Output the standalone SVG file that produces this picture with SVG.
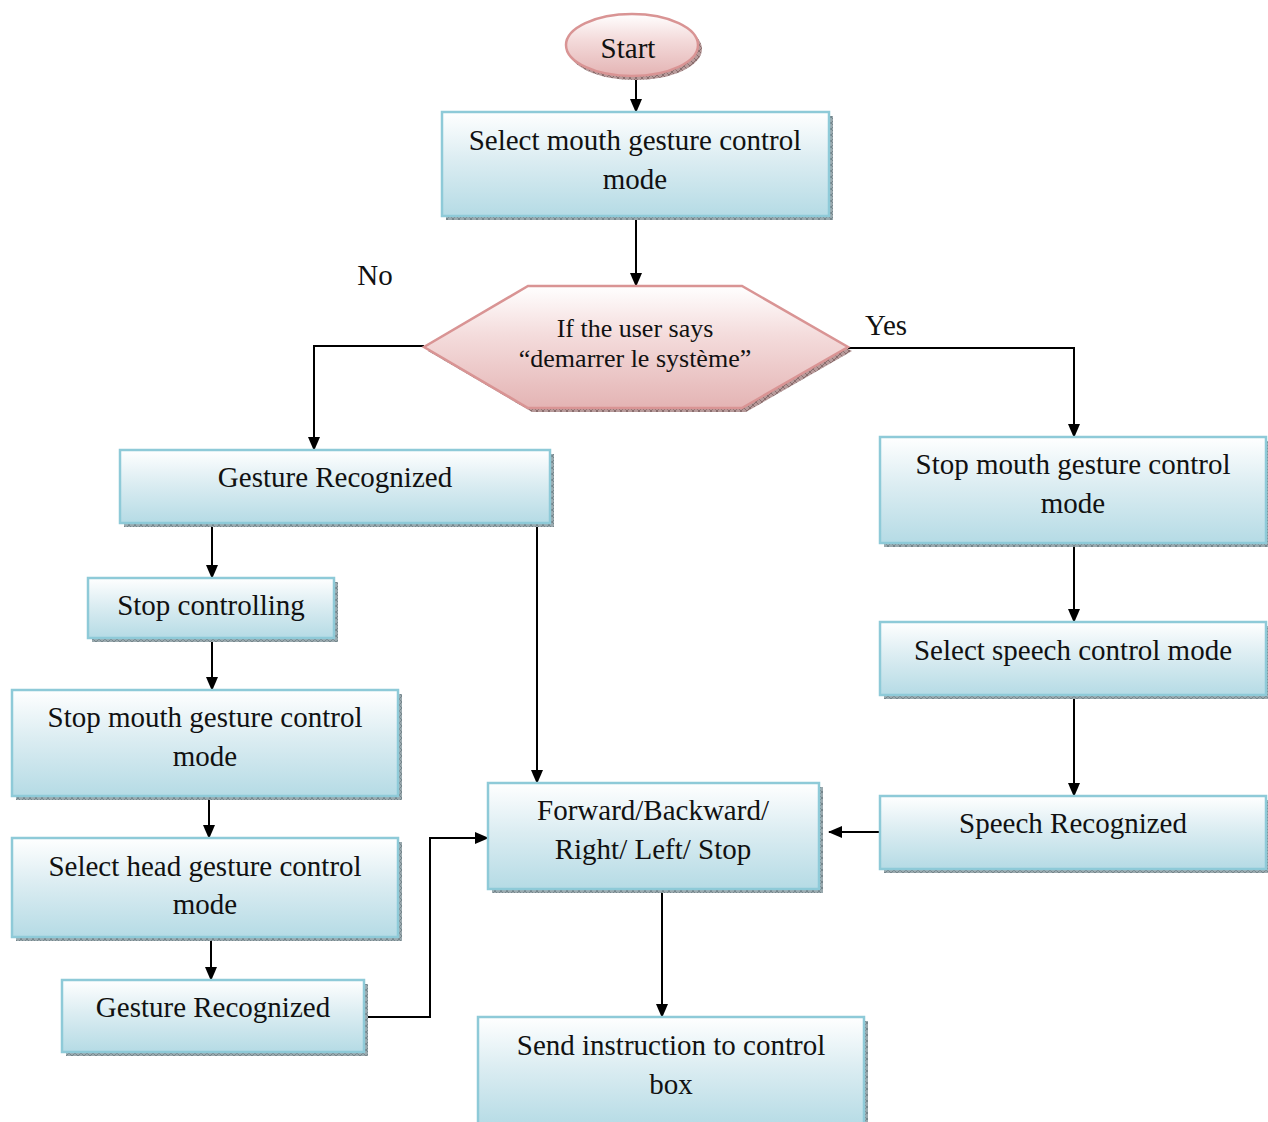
<svg xmlns="http://www.w3.org/2000/svg" width="1268" height="1122" viewBox="0 0 1268 1122">
  <defs>
    <linearGradient id="blueFill" x1="0" y1="0" x2="0" y2="1">
      <stop offset="0" stop-color="#ffffff"/>
      <stop offset="0.45" stop-color="#dcedf2"/>
      <stop offset="1" stop-color="#b5dbe5"/>
    </linearGradient>
    <linearGradient id="pinkFill" x1="0" y1="0" x2="0" y2="1">
      <stop offset="0" stop-color="#ffffff"/>
      <stop offset="0.4" stop-color="#f4dcdc"/>
      <stop offset="1" stop-color="#e4b4b4"/>
    </linearGradient>
    <pattern id="blueHatch" width="6" height="6" patternUnits="userSpaceOnUse">
      <rect width="6" height="6" fill="#9aa9ae"/>
      <path d="M0 0L6 6M6 0L0 6" stroke="#6d7e84" stroke-width="0.8"/>
    </pattern>
    <pattern id="pinkHatch" width="6" height="6" patternUnits="userSpaceOnUse">
      <rect width="6" height="6" fill="#b79a9a"/>
      <path d="M0 0L6 6M6 0L0 6" stroke="#7e6262" stroke-width="0.8"/>
    </pattern>
    <marker id="arrow" markerWidth="14" markerHeight="14" refX="13" refY="7" orient="auto" markerUnits="userSpaceOnUse">
      <path d="M0 1L14 7L0 13Z" fill="#000"/>
    </marker>
    <style>
      .box { fill: url(#blueFill); stroke: #8ecad8; stroke-width: 2.5; }
      .shadow { fill: url(#blueHatch); }
      .pshadow { fill: url(#pinkHatch); }
      .pink { fill: url(#pinkFill); stroke: #d99494; stroke-width: 2.5; }
      text { font-family: "Liberation Serif", "DejaVu Serif", serif; fill: #111; text-anchor: middle; }
      .lbl { font-size: 29px; }
      .hlbl { font-size: 26px; }
      .wire { fill: none; stroke: #000; stroke-width: 2; }
    </style>
  </defs>

  <!-- Connectors -->
  <g id="connectors">
    <path class="wire" d="M636 76V112" marker-end="url(#arrow)"/>
    <path class="wire" d="M636 216V286" marker-end="url(#arrow)"/>
    <path class="wire" d="M424 346H314V450" marker-end="url(#arrow)"/>
    <path class="wire" d="M848 348H1074V437" marker-end="url(#arrow)"/>
    <path class="wire" d="M212 523V578" marker-end="url(#arrow)"/>
    <path class="wire" d="M537 523V783" marker-end="url(#arrow)"/>
    <path class="wire" d="M212 638V690" marker-end="url(#arrow)"/>
    <path class="wire" d="M209 796V838" marker-end="url(#arrow)"/>
    <path class="wire" d="M211 937V980" marker-end="url(#arrow)"/>
    <path class="wire" d="M364 1017H430V838H488" marker-end="url(#arrow)"/>
    <path class="wire" d="M1074 543V622" marker-end="url(#arrow)"/>
    <path class="wire" d="M1074 695V796" marker-end="url(#arrow)"/>
    <path class="wire" d="M880 832H829" marker-end="url(#arrow)"/>
    <path class="wire" d="M662 889V1017" marker-end="url(#arrow)"/>
  </g>

  <!-- Branch labels -->
  <text class="lbl" x="375" y="285" font-size="28">No</text>
  <text class="lbl" x="886" y="335" font-size="28">Yes</text>

  <g id="start">
    <ellipse class="pshadow" cx="635" cy="49" rx="67" ry="31"/>
    <ellipse class="pink" cx="632" cy="45" rx="66" ry="31"/>
    <text class="lbl" x="628" y="58">Start</text>
  </g>

  <g id="select-mouth">
    <rect class="shadow" x="446" y="116" width="387" height="104"/>
    <rect class="box" x="442" y="112" width="387" height="104"/>
    <text class="lbl" x="635" y="150">Select mouth gesture control</text>
    <text class="lbl" x="635" y="189">mode</text>
  </g>

  <g id="decision">
    <polygon class="pshadow" points="532,290 746,290 852,351 746,412 532,412 428,351"/>
    <polygon class="pink" points="528,286 742,286 848,347 742,408 528,408 424,347"/>
    <text class="hlbl" x="635" y="337">If the user says</text>
    <text class="hlbl" x="635" y="367">“demarrer le système”</text>
  </g>

  <g id="gesture-recognized">
    <rect class="shadow" x="124" y="454" width="430" height="73"/>
    <rect class="box" x="120" y="450" width="430" height="73"/>
    <text class="lbl" x="335" y="487">Gesture Recognized</text>
  </g>

  <g id="stop-controlling">
    <rect class="shadow" x="92" y="582" width="246" height="60"/>
    <rect class="box" x="88" y="578" width="246" height="60"/>
    <text class="lbl" x="211" y="615">Stop controlling</text>
  </g>

  <g id="stop-mouth-left">
    <rect class="shadow" x="16" y="694" width="386" height="106"/>
    <rect class="box" x="12" y="690" width="386" height="106"/>
    <text class="lbl" x="205" y="727">Stop mouth gesture control</text>
    <text class="lbl" x="205" y="766">mode</text>
  </g>

  <g id="select-head">
    <rect class="shadow" x="16" y="842" width="386" height="99"/>
    <rect class="box" x="12" y="838" width="386" height="99"/>
    <text class="lbl" x="205" y="876">Select head gesture control</text>
    <text class="lbl" x="205" y="914">mode</text>
  </g>

  <g id="gesture-recognized-2">
    <rect class="shadow" x="66" y="984" width="302" height="72"/>
    <rect class="box" x="62" y="980" width="302" height="72"/>
    <text class="lbl" x="213" y="1017">Gesture Recognized</text>
  </g>

  <g id="commands">
    <rect class="shadow" x="492" y="787" width="331" height="106"/>
    <rect class="box" x="488" y="783" width="331" height="106"/>
    <text class="lbl" x="653" y="820">Forward/Backward/</text>
    <text class="lbl" x="653" y="859">Right/ Left/ Stop</text>
  </g>

  <g id="send-instruction">
    <rect class="shadow" x="482" y="1021" width="386" height="110"/>
    <rect class="box" x="478" y="1017" width="386" height="110"/>
    <text class="lbl" x="671" y="1055">Send instruction to control</text>
    <text class="lbl" x="671" y="1094">box</text>
  </g>

  <g id="stop-mouth-right">
    <rect class="shadow" x="884" y="441" width="386" height="106"/>
    <rect class="box" x="880" y="437" width="386" height="106"/>
    <text class="lbl" x="1073" y="474">Stop mouth gesture control</text>
    <text class="lbl" x="1073" y="513">mode</text>
  </g>

  <g id="select-speech">
    <rect class="shadow" x="884" y="626" width="386" height="73"/>
    <rect class="box" x="880" y="622" width="386" height="73"/>
    <text class="lbl" x="1073" y="660">Select speech control mode</text>
  </g>

  <g id="speech-recognized">
    <rect class="shadow" x="884" y="800" width="386" height="73"/>
    <rect class="box" x="880" y="796" width="386" height="73"/>
    <text class="lbl" x="1073" y="833">Speech Recognized</text>
  </g>
</svg>
